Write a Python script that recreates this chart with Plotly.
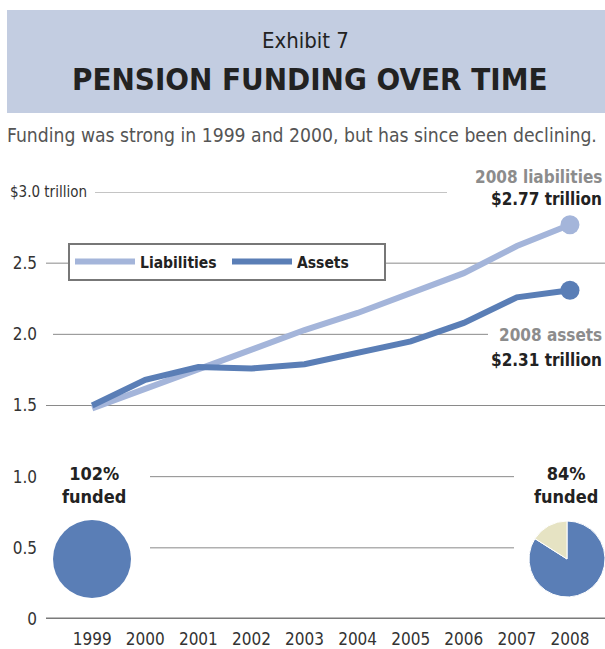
import plotly.graph_objects as go

years = [1999, 2000, 2001, 2002, 2003, 2004, 2005, 2006, 2007, 2008]
liabilities = [1.48, 1.62, 1.76, 1.89, 2.03, 2.15, 2.29, 2.43, 2.62, 2.77]
assets = [1.50, 1.68, 1.77, 1.76, 1.79, 1.87, 1.95, 2.08, 2.26, 2.31]
y_tick_vals = [0, 0.5, 1.0, 1.5, 2.0, 2.5]
y_tick_text = ["0", "0.5", "1.0", "1.5", "2.0", "2.5"]
top_tick_text = "$3.0 trillion"
pie_labels = ["Assets", "Shortfall"]
pie_1999 = [100, 0]
pie_2008 = [84, 16]

FONT = "DejaVu Sans Condensed, Liberation Sans Narrow, sans-serif"
C_LIAB = "#a4b5da"
C_ASSET = "#5a7eb6"
C_CREAM = "#e6e3c3"
GRID = "#8a8a8a"

W, H = 605, 649
L, R, T, B = 46, 0, 192, 30
PW, PH = W - L - R, H - T - B


def px(x):
    return (x - L) / PW


def py(y):
    return (H - B - y) / PH


fig = go.Figure()

fig.add_trace(go.Scatter(x=years, y=liabilities, mode="lines", name="Liabilities",
                         line=dict(color=C_LIAB, width=6), cliponaxis=False))
fig.add_trace(go.Scatter(x=years, y=assets, mode="lines", name="Assets",
                         line=dict(color=C_ASSET, width=6), cliponaxis=False))
fig.add_trace(go.Scatter(x=years[-1:], y=liabilities[-1:], mode="markers", showlegend=False,
                         marker=dict(color=C_LIAB, size=19), cliponaxis=False))
fig.add_trace(go.Scatter(x=years[-1:], y=assets[-1:], mode="markers", showlegend=False,
                         marker=dict(color=C_ASSET, size=19), cliponaxis=False))

fig.add_trace(go.Pie(labels=pie_labels, values=pie_1999, sort=False, direction="clockwise",
                     rotation=0, textinfo="none", hoverinfo="label+percent", showlegend=False,
                     marker=dict(colors=[C_ASSET, C_CREAM], line=dict(color="white", width=0)),
                     domain=dict(x=[px(53), px(131)], y=[py(598), py(520)])))
fig.add_trace(go.Pie(labels=pie_labels, values=pie_2008, sort=False, direction="clockwise",
                     rotation=0, textinfo="none", hoverinfo="label+percent", showlegend=False,
                     marker=dict(colors=[C_ASSET, C_CREAM], line=dict(color="white", width=1)),
                     domain=dict(x=[px(529), 1.0], y=[py(597), py(521)])))

shapes = []
shapes.append(dict(type="rect", xref="paper", yref="paper", x0=px(7), x1=px(605),
                   y0=py(113), y1=py(10), fillcolor="#c3cde1", line=dict(width=0), layer="below"))
grid_segments = [(3.0, 95, 447), (2.5, 46, 605), (2.0, 53, 488),
                 (1.5, 46, 605), (1.0, 150, 514), (0.5, 150, 514)]
for v, a, b in grid_segments:
    shapes.append(dict(type="line", xref="paper", yref="y", x0=px(a), x1=px(b), y0=v, y1=v,
                       line=dict(color=GRID, width=1), layer="below"))
shapes.append(dict(type="line", xref="paper", yref="y", x0=0, x1=1, y0=0, y1=0,
                   line=dict(color="#7a7a7a", width=3), layer="below"))
fig.update_layout(shapes=shapes)


def note(text, x, y, size, color="#222", bold=False, xanchor="center", yanchor="middle", yref="paper"):
    return dict(text=text, x=px(x), y=(py(y) if yref == "paper" else y), xref="paper", yref=yref,
                xanchor=xanchor, yanchor=yanchor, showarrow=False,
                font=dict(family=FONT, size=size, color=color, weight=("bold" if bold else "normal")))


ann = [
    note("Exhibit 7", 305, 40, 22),
    note("PENSION FUNDING OVER TIME", 309, 79, 31, bold=True),
    note("Funding was strong in 1999 and 2000, but has since been declining.", 5, 135, 19.2,
         color="#555", xanchor="left"),
    note(top_tick_text, 8, 3.0, 15, color="#333", xanchor="left", yref="y"),
    note("2008 liabilities", 604, 177, 17, color="#8c8c8c", bold=True, xanchor="right"),
    note("$2.77 trillion", 604, 199, 17, bold=True, xanchor="right"),
    note("2008 assets", 604, 335, 17, color="#8c8c8c", bold=True, xanchor="right"),
    note("$2.31 trillion", 604, 360, 17, bold=True, xanchor="right"),
    note("102%<br>funded", 94, 485, 18, bold=True),
    note("84%<br>funded", 566, 485, 18, bold=True),
]
fig.update_layout(annotations=ann)

fig.update_layout(
    width=W, height=H,
    margin=dict(l=L, r=R, t=T, b=B, pad=0),
    paper_bgcolor="white", plot_bgcolor="white",
    font=dict(family=FONT, size=17, color="#333"),
    xaxis=dict(range=[1998.13, 2008.66], tickvals=years, ticktext=[str(y) for y in years],
               showgrid=False, zeroline=False, showline=False, ticks="", fixedrange=True,
               tickfont=dict(family=FONT, size=17, color="#333"), ticklabelstandoff=8),
    yaxis=dict(range=[0, 3.0], tickvals=y_tick_vals, ticktext=y_tick_text,
               showgrid=False, zeroline=False, showline=False, ticks="", fixedrange=True,
               tickfont=dict(family=FONT, size=17, color="#333"), ticklabelstandoff=8),
    legend=dict(orientation="h", x=px(68), y=py(243), xanchor="left", yanchor="top",
                bgcolor="white", bordercolor="#777", borderwidth=2,
                font=dict(family=FONT, size=15.5, color="#222", weight="bold"),
                itemwidth=60, entrywidth=82, entrywidthmode="pixels"),
    showlegend=True,
)

fig.write_html("out.html", config={"displayModeBar": False},
               post_script="document.body.style.margin='0';document.body.style.overflow='hidden';")
